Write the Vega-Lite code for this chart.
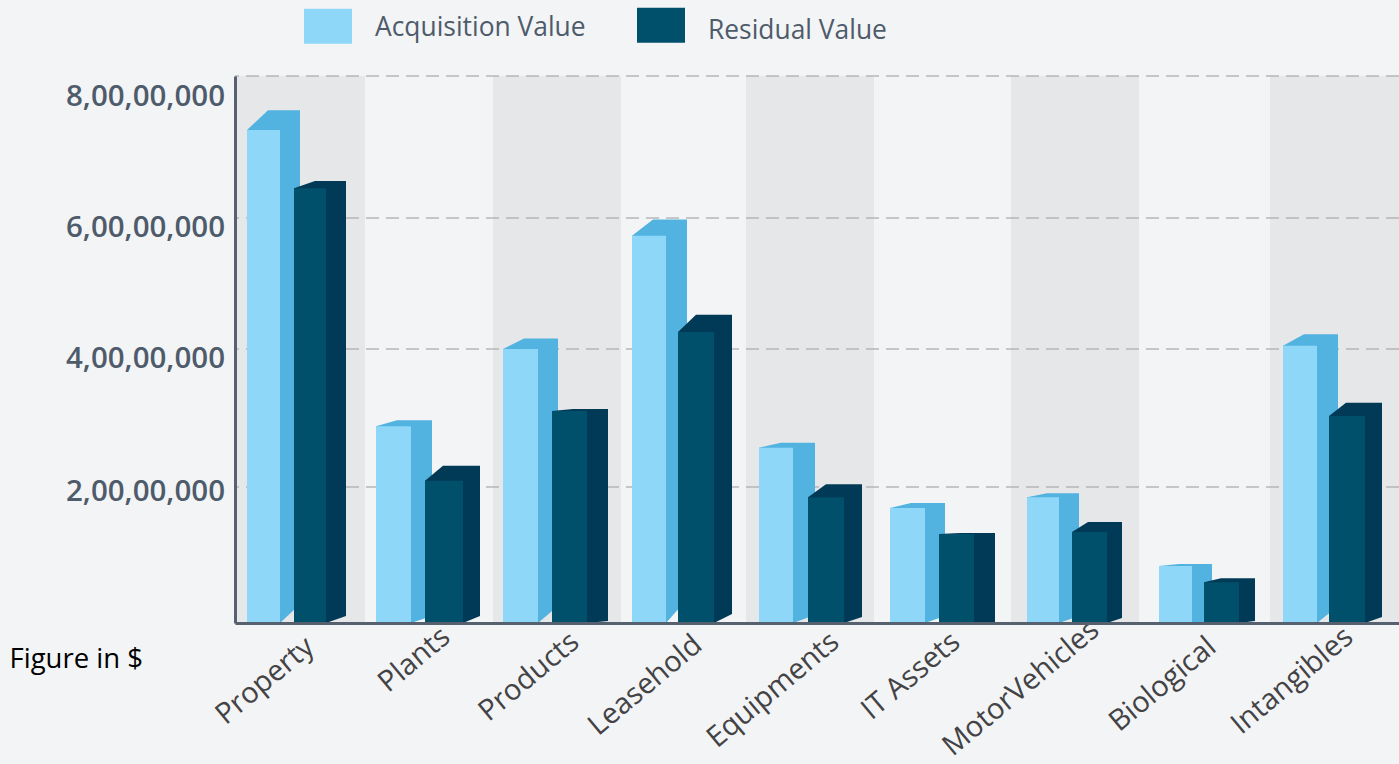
{
"$schema":"https://vega.github.io/schema/vega-lite/v6.json",
"width":1164,"height":547,"autosize":"none",
"padding":{"left":235,"top":76,"right":0,"bottom":141},
"background":"#f3f4f6",
"config":{"view":{"stroke":null}},
"resolve":{"axis":{"x":"independent","y":"independent"}},
"data":{"values":[
{"category":"Property","series":"Acquisition Value","value":72400000},
{"category":"Property","series":"Residual Value","value":64200000},
{"category":"Plants","series":"Acquisition Value","value":28800000},
{"category":"Plants","series":"Residual Value","value":20900000},
{"category":"Products","series":"Acquisition Value","value":40000000},
{"category":"Products","series":"Residual Value","value":31000000},
{"category":"Leasehold","series":"Acquisition Value","value":57300000},
{"category":"Leasehold","series":"Residual Value","value":42600000},
{"category":"Equipments","series":"Acquisition Value","value":25700000},
{"category":"Equipments","series":"Residual Value","value":18500000},
{"category":"IT Assets","series":"Acquisition Value","value":16900000},
{"category":"IT Assets","series":"Residual Value","value":13100000},
{"category":"MotorVehicles","series":"Acquisition Value","value":18500000},
{"category":"MotorVehicles","series":"Residual Value","value":13400000},
{"category":"Biological","series":"Acquisition Value","value":8400000},
{"category":"Biological","series":"Residual Value","value":6000000},
{"category":"Intangibles","series":"Acquisition Value","value":40500000},
{"category":"Intangibles","series":"Residual Value","value":30300000}
]},
"transform":[
{"calculate":"indexof(['Property','Plants','Products','Leasehold','Equipments','IT Assets','MotorVehicles','Biological','Intangibles'],datum.category)","as":"idx"},
{"calculate":"datum.series=='Acquisition Value'?0:1","as":"s"},
{"calculate":"datum.idx+0.1+0.2*datum.s","as":"left"},
{"calculate":"datum.idx+0.2+0.2*datum.s","as":"right"},
{"calculate":"datum.idx+1","as":"bandEnd"},
{"calculate":"[19,7,6,15,11,2,17,18,5,13,5,1,4,10,2,4,12,13][datum.idx*2+datum.s]*146000","as":"rise"},
{"calculate":"[19,7,7,7,17,2,24,9,8,6,7,1,7,5,2,2,17,6][datum.idx*2+datum.s]*146000","as":"riseBase"},
{"calculate":"[0,1,2,3]","as":"pt"}
],
"layer":[
{"transform":[{"filter":"datum.s==0 && datum.idx%2==0"}],
 "mark":{"type":"rect","color":"#e6e7e9"},
 "encoding":{
  "x":{"field":"idx","type":"quantitative",
   "scale":{"nice":false,"zero":false,
    "domain":[0,0.1,0.15,0.2,0.25,0.3,0.35,0.4,0.45,1,1.1,1.15,1.2,1.25,1.3,1.35,1.4,1.45,2,2.1,2.15,2.2,2.25,2.3,2.35,2.4,2.45,3,3.1,3.15,3.2,3.25,3.3,3.35,3.4,3.45,4,4.1,4.15,4.2,4.25,4.3,4.35,4.4,4.45,5,5.1,5.15,5.2,5.25,5.3,5.35,5.4,5.45,6,6.1,6.15,6.2,6.25,6.3,6.35,6.4,6.45,7,7.1,7.15,7.2,7.25,7.3,7.35,7.4,7.45,8,8.1,8.15,8.2,8.25,8.3,8.35,8.4,8.45,9],
    "range":[0,12,33,45,65,59,80,91,111,130,141,162,176,197,190,208,228,245,258,268,289,303,323,317,338,352,373,386,397,418,431,452,443,461,479,497,511,524,546,558,580,573,591,609,627,639,655,676,690,710,704,725,739,760,776,792,812,824,844,837,853,872,887,904,924,944,957,977,969,986,1004,1020,1035,1048,1069,1082,1103,1094,1111,1130,1147,1164]},
   "axis":{"values":[0.4,1.4,2.4,3.4,4.4,5.4,6.4,7.4,8.4],"zindex":1,"labels":false,
    "ticks":false,"grid":false,
    "domain":true,"domainColor":"#56606e","domainWidth":3,
    "title":"Figure in $","titleX":-226,"titleY":36,"titleAnchor":"start","titleAlign":"left","titleBaseline":"middle",
    "titleFont":"Open Sans","titleFontSize":27.5,"titleFontWeight":"normal","titleColor":"#000000"}},
  "x2":{"field":"bandEnd"}
 }},
{"data":{"values":[{"tick":20000000},{"tick":40000000},{"tick":60000000},{"tick":80000000}]},
 "mark":{"type":"rule","stroke":"#b6b7b9","strokeWidth":1.5,"strokeDash":[13,7]},
 "encoding":{
  "y":{"field":"tick","type":"quantitative",
   "scale":{"nice":false,"zero":true,"domain":[0,20000000,40000000,60000000,80000000],"range":[547,411,273,142,0]},
   "axis":{"values":[20000000,40000000,60000000,80000000],"title":null,"grid":false,"ticks":false,"zindex":1,"labels":false,
    "domain":true,"domainColor":"#56606e","domainWidth":3}}
 }},
{"data":{"values":[{"tick":20000000},{"tick":40000000},{"tick":60000000},{"tick":80000000}]},
 "transform":[{"calculate":"toString(datum.tick/10000000)+',00,00,000'","as":"label"}],
 "mark":{"type":"text","align":"right","baseline":"middle","dx":-10,"dy":{"expr":"datum.tick==80000000?21:datum.tick==20000000?5:10"},
   "font":"Open Sans","fontSize":29.5,"fontWeight":600,"color":"#4e5b6b"},
 "encoding":{"x":{"datum":0,"type":"quantitative","axis":null},"y":{"field":"tick","type":"quantitative","axis":null},"text":{"field":"label"}}},
{"transform":[{"filter":"datum.s==0"},{"calculate":"datum.idx+0.4","as":"labelAt"}],
 "mark":{"type":"text","align":"right","baseline":"middle","angle":320,
   "dx":{"expr":"[-25.1,-19.5,-18.8,-23.8,-16.5,-23.4,-11.1,-33.5,-18.7][datum.idx]"},
   "dy":{"expr":"[5,-3.3,3.8,3.5,5.7,-0.1,-5.4,-2,-2.6][datum.idx]"},
   "font":"Open Sans","fontSize":29,"fontWeight":500,"color":"#434345"},
 "encoding":{"x":{"field":"labelAt","type":"quantitative","axis":null},"y":{"datum":0,"type":"quantitative","axis":null},"text":{"field":"category"}}},
{"transform":[{"filter":"datum.s==0"},{"flatten":["pt"]},
  {"calculate":"datum.left+0.05*datum.pt","as":"px"},
  {"calculate":"datum.value+(datum.pt>=1?datum.rise:0)","as":"upper"},
  {"calculate":"datum.pt==3?datum.riseBase:0","as":"lower"}],
 "mark":{"type":"area","color":"#52b3e0","opacity":1,"line":false},
 "encoding":{"x":{"field":"px","type":"quantitative","axis":null},"y":{"field":"upper","type":"quantitative","axis":null},"y2":{"field":"lower"},"detail":{"field":"category"}}},
{"transform":[{"filter":"datum.s==1"},{"flatten":["pt"]},
  {"calculate":"datum.left+0.05*datum.pt","as":"px"},
  {"calculate":"datum.value+(datum.pt>=1?datum.rise:0)","as":"upper"},
  {"calculate":"datum.pt==3?datum.riseBase:0","as":"lower"}],
 "mark":{"type":"area","color":"#003a56","opacity":1,"line":false},
 "encoding":{"x":{"field":"px","type":"quantitative","axis":null},"y":{"field":"upper","type":"quantitative","axis":null},"y2":{"field":"lower"},"detail":{"field":"category"}}},
{"mark":{"type":"rect"},
 "encoding":{
  "x":{"field":"left","type":"quantitative","axis":null},"x2":{"field":"right"},
  "y":{"field":"value","type":"quantitative","axis":null},"y2":{"datum":0},
  "color":{"field":"series","type":"nominal",
   "scale":{"domain":["Acquisition Value","Residual Value"],"range":["#8ed7f9","#004f6b"]},
   "legend":{"orient":"none","legendX":69,"legendY":-75,"direction":"horizontal","title":null,
    "symbolType":"M-1,-0.73H1V0.73H-1Z","symbolSize":2304,"symbolStrokeWidth":0,"symbolOpacity":1,
    "labelFont":"Open Sans","labelFontSize":26.4,"labelColor":"#4e5b6b","labelOffset":23,"columnPadding":51,"labelLimit":400,
    "encode":{"labels":{"update":{"dy":{"signal":"datum.value=='Residual Value'?6:2"}}}}}}
 }}
]
}
